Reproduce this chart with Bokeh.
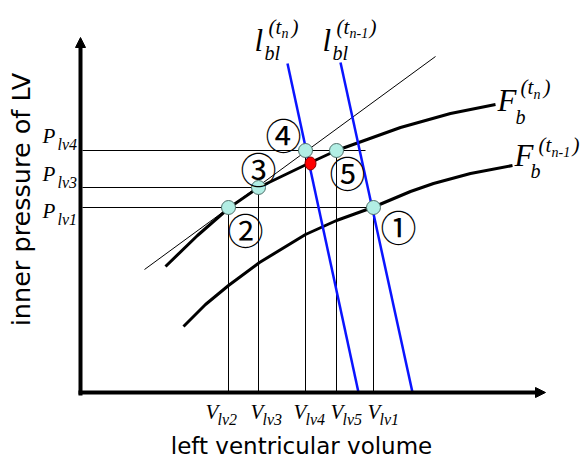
import math
from bokeh.plotting import figure
from bokeh.models import Range1d, Arrow, NormalHead
from bokeh.embed import file_html
from bokeh.resources import INLINE

# ---------------- schematic data (volume, pressure units; origin at axis corner) ----------------
v_tick_names = ["lv2", "lv3", "lv4", "lv5", "lv1"]
v_ticks = [148, 178, 225, 256, 293]
v_tick_top = [185, 205, 242, 242, 185]          # pressure reached by each drop line

p_tick_names = ["lv4", "lv3", "lv1"]
p_ticks = [242, 205, 185]
p_line_end = [285, 178, 293]                     # volume where each horizontal guide ends

point_names = ["①", "②", "③", "④", "⑤"]
point_v = [293, 148, 178, 225, 256]
point_p = [185, 185, 205, 242, 242]

red_v = [230]
red_p = [229]

fb_tn_v = [85, 117, 149, 178, 230, 256, 320, 370, 415]
fb_tn_p = [126, 157, 185, 205, 230, 242, 265, 279, 288]

fb_tn1_v = [103, 125, 148, 179, 225, 256, 292, 330, 353, 390, 432]
fb_tn1_p = [66, 88, 107, 130, 158, 172, 185, 201, 209, 219, 227]

tangent_v = [64, 355]
tangent_p = [123, 336]

lbl_tn_v = [207, 278]
lbl_tn_p = [329, 0]
lbl_tn1_v = [260, 332]
lbl_tn1_p = [330, 0]

x_axis_end = 465
y_axis_end = 355

# ---------------- figure ----------------
OX, OY = 80, 392   # pixel position of the origin inside the page
W, H = 585, 458

p = figure(width=W, height=H,
           x_range=Range1d(-OX, W - OX), y_range=Range1d(OY - H, OY),
           output_backend="svg", toolbar_location=None, min_border=0,
           x_axis_type=None, y_axis_type=None, outline_line_color=None,
           background_fill_color="white", border_fill_color="white")


def px(xp, yp):
    return xp - OX, OY - yp


def txt(xp, yp, s, size, font="Liberation Serif", style="italic", align="left",
        baseline="alphabetic", angle=0.0, color="black"):
    if baseline == "alphabetic":
        yp = yp - 0.23 * size      # renderer places the alphabetic baseline a descent lower
    x, y = px(xp, yp)
    p.text(x=[x], y=[y], text=[s], text_font_size=f"{size}px", text_font={"value": font},
           text_font_style=style, text_align=align, text_baseline=baseline, angle=angle,
           text_color=color)


# thin guide lines
for v, top in zip(v_ticks, v_tick_top):
    p.line([v, v], [0, top], line_color="black", line_width=1)
for pv, end in zip(p_ticks, p_line_end):
    p.line([2, end], [pv, pv], line_color="black", line_width=1)

# tangent line
p.line(tangent_v, tangent_p, line_color="black", line_width=1)

# curves
p.line(fb_tn_v, fb_tn_p, line_color="black", line_width=3, line_join="round")
p.line(fb_tn1_v, fb_tn1_p, line_color="black", line_width=3, line_join="round")

# blue lines
p.line(lbl_tn_v, lbl_tn_p, line_color="#0a14ff", line_width=2.5)
p.line(lbl_tn1_v, lbl_tn1_p, line_color="#0a14ff", line_width=2.5)

# axes
p.line([-2, x_axis_end - 6], [0, 0], line_color="black", line_width=4)
p.line([0, 0], [-3, y_axis_end - 6], line_color="black", line_width=4)
p.add_layout(Arrow(end=NormalHead(size=10, fill_color="black", line_color="black"),
                   x_start=0, y_start=0, x_end=x_axis_end, y_end=0, line_alpha=0))
p.add_layout(Arrow(end=NormalHead(size=10, fill_color="black", line_color="black"),
                   x_start=0, y_start=0, x_end=0, y_end=y_axis_end, line_alpha=0))

# points
p.scatter(point_v, point_p, size=14, fill_color="#b2eee4", line_color="#4f6f6a", line_width=1)
p.ellipse(red_v, red_p, width=11, height=13, width_units="screen", height_units="screen",
          fill_color="#ff0000", line_color="#800000", line_width=1)

# circled numerals
num_pos = [(398, 225), (245, 228), (258, 167), (283, 133), (347, 171)]
for name, (xp, yp) in zip(point_names, num_pos):
    txt(xp, yp, name, 36, font="Noto Sans CJK JP", style="normal", align="center", baseline="middle")

# V tick labels
v_dx = [-23, -8, -12, -6, -6]
for name, v, dx in zip(v_tick_names, v_ticks, v_dx):
    xl = v + OX + dx
    txt(xl, 416, "V", 21)
    txt(xl + 12, 423, name, 16)

# P tick labels
p_dy = [-10, -9, 8]
for name, pv, dy in zip(p_tick_names, p_ticks, p_dy):
    yb = OY - pv + dy
    txt(42, yb, "P", 21)
    txt(57, yb + 8, name, 16)

# F labels
txt(497, 107, "F", 31)
txt(515, 121, "b", 20)
txt(520, 91, "(t", 21)
txt(533, 97, "n", 14)
txt(543, 91, ")", 21)

txt(514, 162, "F", 31)
txt(530, 175, "b", 20)
txt(538, 149, "(t", 21)
txt(551, 155, "n-1", 14)
txt(572, 149, ")", 21)

# l labels
txt(254, 47, "l", 31)
txt(264, 57, "bl", 20)
txt(268, 31, "(t", 21)
txt(281, 36, "n", 14)
txt(291, 31, ")", 21)

txt(322, 47, "l", 31)
txt(332, 57, "bl", 20)
txt(336, 31, "(t", 21)
txt(349, 36, "n-1", 14)
txt(369, 31, ")", 21)

# axis titles
txt(301, 451, "left ventricular volume", 23, font="DejaVu Sans", style="normal",
    align="center", baseline="alphabetic")
txt(20, 199, "inner pressure of LV", 25.5, font="DejaVu Sans", style="normal",
    align="center", baseline="middle", angle=math.pi / 2)

open("out.html", "w").write(file_html(p, INLINE))
